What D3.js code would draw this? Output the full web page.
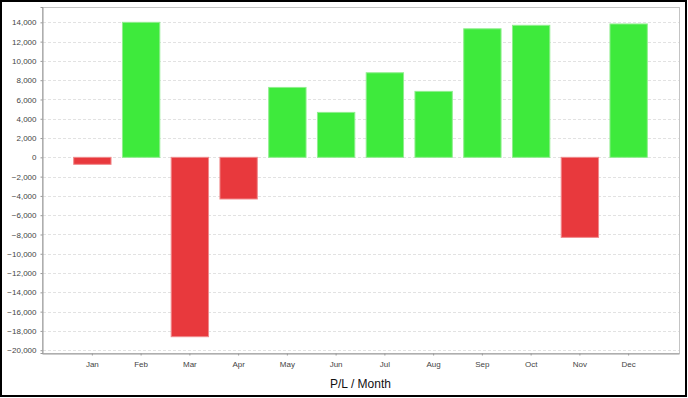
<!DOCTYPE html>
<html>
<head>
<meta charset="utf-8">
<script src="https://cdn.jsdelivr.net/npm/d3@7/dist/d3.min.js"></script>
<style>
  body { margin: 0; background: #fff; }
  svg { display: block; font-family: "Liberation Sans", Arial, sans-serif; }
</style>
</head>
<body>
<div id="chart"></div>
<script>
// monthly profit / loss
const months = ["Jan", "Feb", "Mar", "Apr", "May", "Jun", "Jul", "Aug", "Sep", "Oct", "Nov", "Dec"];
const values = [-725, 14000, -18600, -4320, 7250, 4660, 8770, 6840, 13330, 13690, -8300, 13830];
const yTicks = d3.range(-20000, 14001, 2000);

const width = 688,
      height = 398;
const plot = { left: 42, right: 679, top: 7, bottom: 353 };

const svg = d3.select("#chart")
  .append("svg")
  .attr("width", width)
  .attr("height", height);

svg.append("rect")
  .attr("width", width)
  .attr("height", height)
  .attr("fill", "#fff");

const x = d3.scaleBand()
  .domain(months)
  .range([plot.left, plot.right])
  .paddingInner(0.234)
  .paddingOuter(0.65);

const y = d3.scaleLinear()
  .domain([-20290, 15590])
  .range([plot.bottom, plot.top]);

// plot outline
svg.append("rect")
  .attr("x", plot.left + 0.5)
  .attr("y", plot.top + 0.5)
  .attr("width", plot.right - plot.left)
  .attr("height", plot.bottom - plot.top)
  .attr("fill", "none")
  .attr("stroke", "#c4c4c4");

// gridlines
svg.append("g")
  .selectAll("line")
  .data(yTicks)
  .enter()
  .append("line")
  .attr("x1", plot.left + 1)
  .attr("x2", plot.right)
  .attr("y1", d => Math.round(y(d)) + 0.5)
  .attr("y2", d => Math.round(y(d)) + 0.5)
  .attr("stroke", "#e2e2e2")
  .attr("stroke-dasharray", "3,2");

// bars
svg.append("g")
  .selectAll("rect")
  .data(values)
  .enter()
  .append("rect")
  .attr("x", (d, i) => x(months[i]))
  .attr("y", d => y(Math.max(0, d)))
  .attr("width", x.bandwidth())
  .attr("height", d => Math.abs(y(d) - y(0)))
  .attr("fill", d => d < 0 ? "#e8393d" : "#3eea3c")
  .attr("stroke", d => d < 0 ? "#f08a8c" : "#90ee8e")
  .attr("stroke-width", 1);

// y axis
const yAxis = d3.axisLeft(y)
  .tickValues(yTicks)
  .tickSize(2)
  .tickPadding(4)
  .tickFormat(d3.format(","));
const gy = svg.append("g")
  .attr("transform", "translate(" + (plot.left + 0.5) + ",0)")
  .call(yAxis);
gy.select(".domain").attr("stroke", "#999");
gy.selectAll(".tick line").attr("stroke", "#999");
gy.selectAll(".tick text")
  .attr("fill", "#444")
  .style("font-size", "8px")
  .style("font-family", "'Liberation Sans', Arial, sans-serif");

// x axis
const xAxis = d3.axisBottom(x)
  .tickSize(2)
  .tickPadding(6)
  .tickSizeOuter(0);
const gx = svg.append("g")
  .attr("transform", "translate(0," + (plot.bottom + 0.5) + ")")
  .call(xAxis);
gx.select(".domain").attr("stroke", "#999");
gx.selectAll(".tick line").attr("stroke", "#999");
gx.selectAll(".tick text")
  .attr("fill", "#444")
  .style("font-size", "8px")
  .style("font-family", "'Liberation Sans', Arial, sans-serif");

// axis title
svg.append("text")
  .attr("x", (plot.left + plot.right) / 2)
  .attr("y", 388)
  .attr("text-anchor", "middle")
  .style("font-size", "12px")
  .attr("fill", "#111")
  .text("P/L / Month");

// outer frame
svg.append("rect")
  .attr("x", 1)
  .attr("y", 1)
  .attr("width", width - 3)
  .attr("height", height - 3)
  .attr("fill", "none")
  .attr("stroke", "#000")
  .attr("stroke-width", 2);
</script>
</body>
</html>
